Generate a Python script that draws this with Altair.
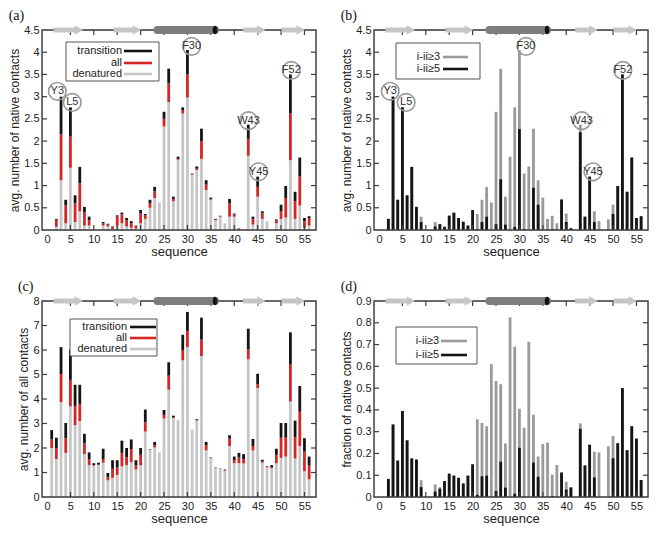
import altair as alt
import pandas as pd

res = list(range(1, 57))

# panel (a): avg. number of native contacts (denatured / all / transition)
a_den = [None, 0.07, 1.12, 0.15, 1.40, 0.18, 0.42, 0.10, 0.10, None,
         None, 0.10, 0.08, 0.02, 0.10, 0.15, 0.08, 0.05, 0.03, 0.15,
         0.25, 0.50, 0.72, 0.62, 2.33, 2.88, 0.65, 1.58, 2.62, 2.98,
         1.25, 1.35, 1.60, 0.90, 0.68, 0.22, 0.30, 0.15, 0.30, 0.30,
         0.02, None, 1.67, 0.12, 0.75, 0.25, 0.20, None, 0.15, 0.25,
         0.28, 1.57, 0.25, 0.55, 0.05, 0.10]
a_all = [None, 0.23, 2.15, 0.55, 2.10, 0.60, 1.05, 0.40, 0.22, None,
         None, 0.15, 0.12, 0.07, 0.30, 0.35, 0.22, 0.15, 0.08, 0.38,
         0.33, 0.60, 0.87, 0.62, 2.50, 3.30, 0.70, 1.60, 2.70, 3.50,
         1.25, 1.38, 2.00, 1.02, 0.70, 0.23, 0.31, 0.15, 0.60, 0.35,
         0.04, None, 2.05, 0.25, 0.97, 0.38, 0.20, None, 0.22, 0.42,
         0.72, 2.62, 0.65, 1.20, 0.20, 0.27]
a_tra = [None, 0.25, 3.00, 0.68, 2.76, 0.78, 1.42, 0.52, 0.30, None,
         None, 0.18, 0.14, 0.08, 0.33, 0.39, 0.27, 0.20, 0.10, 0.45,
         0.36, 0.68, 0.97, 0.62, 2.66, 3.63, 0.75, 1.65, 2.76, 4.05,
         1.27, 1.43, 2.28, 1.12, 0.73, 0.25, 0.32, 0.15, 0.70, 0.37,
         0.04, None, 2.37, 0.30, 1.20, 0.42, 0.20, None, 0.24, 0.57,
         0.99, 3.50, 0.86, 1.63, 0.27, 0.31]

# panel (b): native contacts by sequence separation
b_ge3 = [None, 0.25, 3.00, 0.68, 2.76, 0.78, 1.42, 0.52, 0.30, None,
         None, 0.18, 0.14, 0.08, 0.33, 0.39, 0.27, 0.20, 0.10, 0.45,
         0.36, 0.68, 0.97, 0.62, 2.66, 3.63, 0.75, 1.65, 2.76, 4.05,
         1.27, 1.43, 2.28, 1.12, 0.73, 0.25, 0.32, 0.15, 0.70, 0.37,
         0.04, None, 2.37, 0.30, 1.20, 0.42, 0.20, None, 0.24, 0.57,
         0.99, 3.50, 0.86, 1.63, 0.27, 0.31]
b_ge5 = [None, 0.25, 3.00, 0.68, 2.76, 0.78, 1.42, 0.52, 0.18, None,
         None, 0.08, 0.13, 0.07, 0.32, 0.39, 0.27, 0.18, 0.10, 0.45,
         0.02, 0.18, 0.30, 0.00, 0.13, 1.14, 0.12, 0.00, 0.07, 2.27,
         0.02, 0.00, 0.95, 0.57, 0.00, 0.00, 0.02, 0.00, 0.68, 0.18,
         0.04, None, 2.20, 0.30, 1.20, 0.18, 0.00, None, 0.00, 0.36,
         0.99, 3.50, 0.86, 1.63, 0.27, 0.31]

# panel (c): avg. number of all contacts
c_den = [2.00, 1.55, 3.87, 1.80, 3.70, 2.93, 3.10, 1.75, 1.30, 1.28,
         1.30, 1.40, 0.68, 0.78, 0.90, 1.25, 1.30, 1.42, 1.12, 1.30,
         2.67, 1.93, 2.02, 1.82, 3.20, 4.38, 3.22, 3.15, 5.58, 6.12,
         2.75, 3.12, 5.75, 1.90, 1.60, 1.18, 1.17, 1.07, 2.08, 1.38,
         1.38, 1.37, 5.62, 1.90, 4.45, 1.40, 1.22, 1.17, 1.38, 1.60,
         1.65, 3.90, 1.57, 2.08, 1.05, 0.72]
c_all = [2.35, 2.00, 5.02, 2.40, 4.78, 3.70, 3.80, 2.20, 1.55, 1.30,
         1.32, 1.55, 0.82, 1.15, 1.20, 1.80, 1.62, 1.95, 1.28, 1.72,
         3.05, 1.93, 2.12, 1.82, 3.35, 4.95, 3.25, 3.15, 6.00, 6.78,
         2.75, 3.15, 6.42, 2.12, 1.60, 1.18, 1.17, 1.10, 2.38, 1.50,
         1.62, 1.55, 6.02, 2.08, 4.60, 1.45, 1.22, 1.22, 1.72, 2.42,
         2.42, 5.40, 2.45, 3.48, 1.85, 1.28]
c_tra = [2.73, 2.42, 6.12, 3.02, 6.02, 4.58, 4.58, 2.58, 1.82, 1.38,
         1.40, 1.97, 0.98, 1.50, 1.50, 2.30, 2.00, 2.35, 1.50, 2.00,
         3.57, 1.95, 2.25, 1.82, 3.55, 5.50, 3.32, 3.15, 6.62, 7.55,
         2.75, 3.18, 7.32, 2.25, 1.62, 1.20, 1.18, 1.12, 2.52, 1.65,
         1.80, 1.75, 6.87, 2.37, 5.03, 1.52, 1.25, 1.30, 1.97, 3.02,
         3.02, 6.72, 3.12, 4.53, 2.40, 1.65]

# panel (d): fraction of native contacts
d_ge3 = [None, 0.083, 0.333, 0.167, 0.395, 0.26, 0.177, 0.172, 0.077, None,
         None, 0.058, 0.045, 0.073, 0.107, 0.098, 0.088, 0.062, 0.098, 0.15,
         0.357, 0.34, 0.325, 0.61, 0.533, 0.518, 0.246, 0.825, 0.69, 0.405,
         0.318, 0.713, 0.378, 0.186, 0.243, 0.25, 0.103, 0.147, 0.113, 0.07,
         0.044, None, 0.338, 0.145, 0.24, 0.208, 0.205, None, 0.233, 0.28,
         0.247, 0.5, 0.215, 0.325, 0.268, 0.078]
d_ge5 = [None, 0.083, 0.333, 0.167, 0.395, 0.26, 0.177, 0.172, 0.045, None,
         None, 0.025, 0.038, 0.073, 0.107, 0.098, 0.088, 0.062, 0.098, 0.15,
         0.01, 0.095, 0.098, 0.0, 0.027, 0.162, 0.043, 0.0, 0.015, 0.226,
         0.003, 0.0, 0.158, 0.093, 0.0, 0.0, 0.005, 0.0, 0.112, 0.034,
         0.044, None, 0.313, 0.145, 0.24, 0.09, 0.0, None, 0.0, 0.178,
         0.247, 0.5, 0.215, 0.325, 0.268, 0.078]

# annotations
ann_labels = ["Y3", "L5", "F30", "W43", "Y45", "F52"]
ann_a_x = [2.2, 5.4, 30.9, 43.05, 45.2, 52.2]
ann_b_x = [2.4, 5.8, 31.4, 43.3, 45.7, 52.1]
ann_y = [3.12, 2.87, 4.13, 2.46, 1.31, 3.59]

# secondary structure (residue ranges)
strand_start = [1.4, 14.2, 41.9, 50.1]
strand_end = [7.8, 20.2, 46.8, 55.2]
helix_start = [23.6]
helix_end = [35.9]

x_ticks = [0, 5, 10, 15, 20, 25, 30, 35, 40, 45, 50, 55]
a_yticks = [0, 0.5, 1, 1.5, 2, 2.5, 3, 3.5, 4, 4.5]
c_yticks = [0, 1, 2, 3, 4, 5, 6, 7, 8]
d_yticks = [0, 0.1, 0.2, 0.3, 0.4, 0.5, 0.6, 0.7, 0.8, 0.9]

stack_labels = ["transition", "all", "denatured"]
sep_labels = ["i-ii≥3", "i-ii≥5"]

BLACK = "#151515"
RED = "#d42626"
LGRAY = "#c6c6c6"
MGRAY = "#9a9a9a"
FRAME = "#3c3c3c"
XMAX = 56.4
W = 274
FONT = "Liberation Sans"


def panel(label, ymax, yticks, ytitle, H, bar_layers, legend, ann=None):
    xs = alt.Scale(domain=[0, XMAX], nice=False, zero=False)
    ys = alt.Scale(domain=[0, ymax], nice=False)
    xaxis = alt.Axis(title="sequence", values=x_ticks, tickCount=len(x_ticks) + 2,
                     ticks=False, domain=False,
                     grid=False, labelPadding=3, titlePadding=1, labelFontSize=11,
                     titleFontSize=13, labelColor="#222", titleColor="#222",
                     titleFontWeight="normal", labelFont=FONT, titleFont=FONT,
                     labelOverlap=False, labelExpr="'' + datum.value")
    yaxis = alt.Axis(title=ytitle, values=yticks, tickCount=len(yticks) + 2,
                     ticks=False, domain=False,
                     grid=False, labelPadding=3, titlePadding=2, labelFontSize=11,
                     titleFontSize=12, labelColor="#222", titleColor="#222",
                     titleFontWeight="normal", labelFont=FONT, titleFont=FONT,
                     labelOverlap=False, labelFlush=False,
                     labelExpr="'' + datum.value")

    def X(f):
        return alt.X(f, type="quantitative", scale=xs, axis=xaxis)

    def Y(f):
        return alt.Y(f, type="quantitative", scale=ys, axis=yaxis)

    layers = []
    for df, ycol, y2col, color in bar_layers:
        enc = dict(x=X("res"), y=Y(ycol))
        if y2col:
            enc["y2"] = alt.Y2(y2col)
        layers.append(alt.Chart(df).mark_bar(size=2.8, color=color).encode(**enc))

    one = pd.DataFrame({"k": [0]})

    # frame
    layers.append(alt.Chart(one).mark_rect(fill="white", fillOpacity=0, stroke=FRAME,
                                           strokeWidth=1.4).encode(
        x=alt.value(0), x2=alt.value(W), y=alt.value(0), y2=alt.value(H)))

    # inward ticks on all four sides
    ty = pd.DataFrame({"v": yticks[1:-1]})
    tx = pd.DataFrame({"v": x_ticks[1:]})
    layers.append(alt.Chart(ty).mark_rule(color=FRAME, strokeWidth=1.2).encode(
        y=Y("v"), x=alt.value(0), x2=alt.value(5)))
    layers.append(alt.Chart(ty).mark_rule(color=FRAME, strokeWidth=1.2).encode(
        y=Y("v"), x=alt.value(W - 5), x2=alt.value(W)))
    layers.append(alt.Chart(tx).mark_rule(color=FRAME, strokeWidth=1.2).encode(
        x=X("v"), y=alt.value(H), y2=alt.value(H - 5)))
    layers.append(alt.Chart(tx).mark_rule(color=FRAME, strokeWidth=1.2).encode(
        x=X("v"), y=alt.value(0), y2=alt.value(5)))

    # secondary structure cartoon along the top edge
    sdf = pd.DataFrame({"s": strand_start, "e": strand_end})
    sdf["body_end"] = sdf["e"] - 1.0
    layers.append(alt.Chart(sdf).mark_rule(color=LGRAY, strokeWidth=5).encode(
        x=X("s"), x2=alt.X2("body_end"), y=alt.datum(ymax)))
    layers.append(alt.Chart(sdf).mark_point(shape="triangle-right", filled=True,
                                            color=LGRAY, opacity=1, size=95).encode(
        x=X("body_end"), y=alt.datum(ymax)))
    hdf = pd.DataFrame({"s": helix_start, "e": helix_end})
    layers.append(alt.Chart(hdf).mark_rule(color="#7d7d7d", strokeWidth=8,
                                           strokeCap="round").encode(
        x=X("s"), x2=alt.X2("e"), y=alt.datum(ymax)))
    layers.append(alt.Chart(hdf).mark_point(
        shape="M 0 -1 A 0.55 1 0 1 1 0 1 A 0.55 1 0 1 1 0 -1 Z",
        filled=True, color="#111", opacity=1, size=72).encode(
        x=X("e"), y=alt.datum(ymax)))

    # residue annotations
    if ann is not None:
        layers.append(alt.Chart(ann).mark_point(shape="circle", size=310, filled=False,
                                                color="#999", strokeWidth=1.6,
                                                opacity=1).encode(
            x=X("x"), y=Y("y")))
        layers.append(alt.Chart(ann).mark_text(fontSize=11, color="#333", font=FONT).encode(
            x=X("x"), y=Y("y"), text="lab:N"))

    # legend (drawn)
    (bx1, by1, bx2, by2), rows, tx_right, lx1, lx2, entries = legend
    layers.append(alt.Chart(one).mark_rect(fill="white", stroke="#555", strokeWidth=1).encode(
        x=alt.value(bx1), x2=alt.value(bx2), y=alt.value(by1), y2=alt.value(by2)))
    for (txt, col), ry in zip(entries, rows):
        layers.append(alt.Chart(one).mark_text(text=txt, align="right", baseline="middle",
                                               fontSize=11, color="#222", font=FONT).encode(
            x=alt.value(tx_right), y=alt.value(ry)))
        layers.append(alt.Chart(one).mark_rule(color=col, strokeWidth=2.6).encode(
            x=alt.value(lx1), x2=alt.value(lx2), y=alt.value(ry)))

    return alt.layer(*layers).properties(
        width=W, height=H,
        title=alt.TitleParams(text=label, anchor="start", frame="bounds",
                              font="Liberation Serif", fontSize=14,
                              fontWeight="normal", color="#111", offset=1))


def frame_of(*cols):
    df = pd.DataFrame({"res": res})
    for name, vals in cols:
        df[name] = vals
    return df.dropna().reset_index(drop=True)


dfa = frame_of(("den", a_den), ("all", a_all), ("tra", a_tra))
dfb = frame_of(("g3", b_ge3), ("g5", b_ge5))
dfc = frame_of(("den", c_den), ("all", c_all), ("tra", c_tra))
dfd = frame_of(("g3", d_ge3), ("g5", d_ge5))

ann_a = pd.DataFrame({"lab": ann_labels, "x": ann_a_x, "y": ann_y})
ann_b = pd.DataFrame({"lab": ann_labels, "x": ann_b_x, "y": ann_y})

stack_entries = list(zip(stack_labels, [BLACK, RED, LGRAY]))
sep_entries = list(zip(sep_labels, [MGRAY, BLACK]))

pa = panel("(a)", 4.5, a_yticks, "avg. number of native contacts", 200,
           [(dfa, "den", None, LGRAY), (dfa, "den", "all", RED), (dfa, "all", "tra", BLACK)],
           ((24, 12, 117, 51), [21, 33, 44], 80, 82, 110, stack_entries), ann_a)
pb = panel("(b)", 4.5, a_yticks, "avg. number of native contacts", 200,
           [(dfb, "g3", None, MGRAY), (dfb, "g5", None, BLACK)],
           ((22, 13, 106, 49), [27, 39], 66, 69, 94, sep_entries), ann_b)
pc = panel("(c)", 8, c_yticks, "avg. number of all contacts", 196,
           [(dfc, "den", None, LGRAY), (dfc, "den", "all", RED), (dfc, "all", "tra", BLACK)],
           ((28, 18, 115, 55), [26, 37, 48], 85, 88, 114, stack_entries))
pd_ = panel("(d)", 0.9, d_yticks, "fraction of native contacts", 196,
            [(dfd, "g3", None, MGRAY), (dfd, "g5", None, BLACK)],
            ((22, 26, 103, 63), [40, 54], 65, 67, 93, sep_entries))

chart = alt.concat(pa, pb, pc, pd_, columns=2, spacing={"row": 20, "column": 22}).properties(
    padding={"left": 0, "top": 0, "right": 0, "bottom": 0}
).configure_view(stroke=None).configure(font=FONT)

chart.save("out.html", embed_options={"renderer": "svg", "actions": False})
